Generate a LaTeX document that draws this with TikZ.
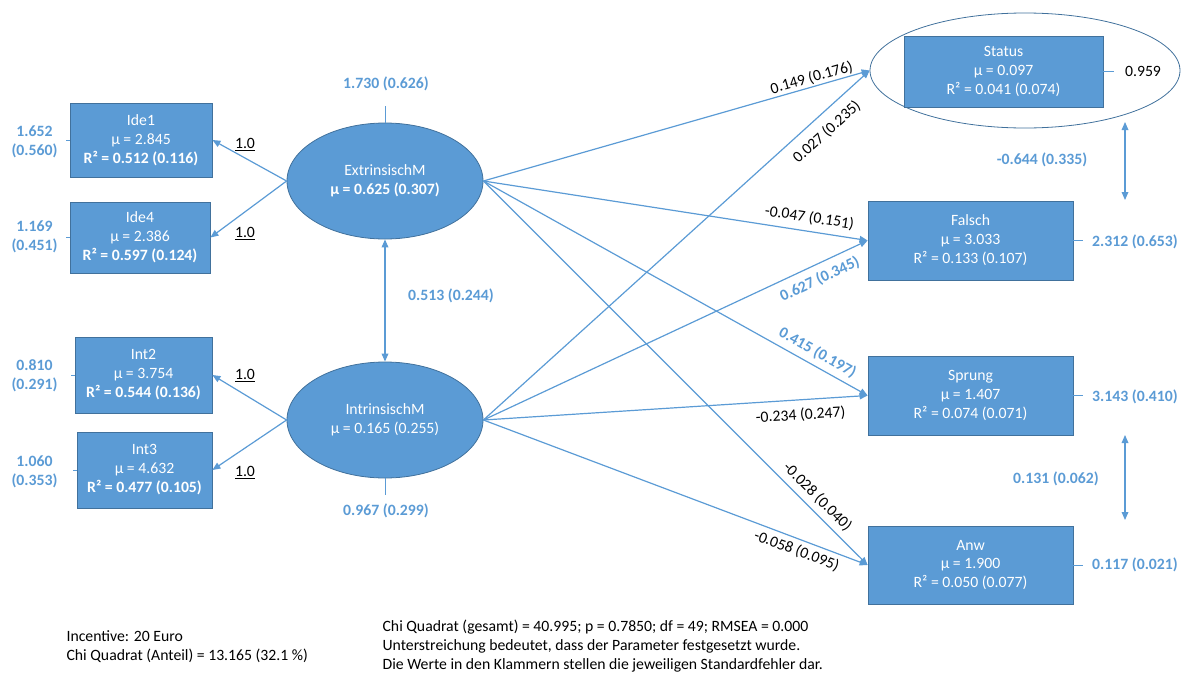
\documentclass[tikz,border=0pt]{standalone}
\usepackage{fontspec}
\setmainfont{Carlito}
\usetikzlibrary{arrows.meta,shapes.geometric}
\definecolor{semblue}{HTML}{5B9BD5}
\definecolor{semedge}{HTML}{41719C}

\begin{document}
\begin{tikzpicture}[x=0.75pt,y=-0.75pt,
  every node/.style={font=\fontsize{11.8}{14.2}\selectfont, inner sep=1pt},
  indicator/.style={draw=semedge, fill=semblue, text=white, align=center,
    line width=0.6pt, inner sep=0pt},
  latent/.style={ellipse, draw=semedge, fill=semblue, text=white, align=center,
    line width=0.6pt, inner sep=0pt,
    minimum width=196*0.75pt, minimum height=116*0.75pt},
  regarrow/.style={draw=semblue, line width=0.9pt, -{Triangle[length=6pt,width=5pt]}},
  covarrow/.style={draw=semblue, line width=0.9pt,
    {Triangle[length=6pt,width=5pt]}-{Triangle[length=6pt,width=5pt]}},
  resline/.style={draw=semblue, line width=0.6pt},
  estlabel/.style={text=semblue, font=\fontsize{11.8}{14.2}\selectfont\bfseries, align=center},
  coeflabel/.style={text=black, sloped},
  coefblue/.style={text=semblue, sloped, font=\fontsize{11.8}{14.2}\selectfont\bfseries},
  notetext/.style={anchor=west, align=left, font=\fontsize{11.8}{14.2}\selectfont}
]
\useasboundingbox (0,0) rectangle (1181,675);

% latent factors
\node[latent] (ext) at (385,181) {ExtrinsischM\\\textbf{μ = 0.625 (0.307)}};
\node[latent] (int) at (385,420) {IntrinsischM\\μ = 0.165 (0.255)};

% indicators
\node[indicator, minimum width=142*0.75pt, minimum height=74*0.75pt] (ide1) at (141,140)
  {Ide1\\μ = 2.845\\\textbf{R² = 0.512 (0.116)}};
\node[indicator, minimum width=140*0.75pt, minimum height=71*0.75pt] (ide4) at (140,237.5)
  {Ide4\\μ = 2.386\\\textbf{R² = 0.597 (0.124)}};
\node[indicator, minimum width=137*0.75pt, minimum height=76*0.75pt] (int2) at (143.5,375)
  {Int2\\μ = 3.754\\\textbf{R² = 0.544 (0.136)}};
\node[indicator, minimum width=135*0.75pt, minimum height=76*0.75pt] (int3) at (144.5,470)
  {Int3\\μ = 4.632\\\textbf{R² = 0.477 (0.105)}};

% outcomes
\node[ellipse, draw=semedge, line width=0.6pt, minimum width=310*0.75pt,
  minimum height=115*0.75pt] (ring) at (1025,70.5) {};
\node[indicator, minimum width=199*0.75pt, minimum height=71*0.75pt] (status) at (1003.5,71.5)
  {Status\\μ = 0.097\\R² = 0.041 (0.074)};
\node[indicator, minimum width=205*0.75pt, minimum height=79*0.75pt] (falsch) at (970.5,240.5)
  {Falsch\\μ = 3.033\\R² = 0.133 (0.107)};
\node[indicator, minimum width=205*0.75pt, minimum height=79*0.75pt] (sprung) at (970.5,395.5)
  {Sprung\\μ = 1.407\\R² = 0.074 (0.071)};
\node[indicator, minimum width=205*0.75pt, minimum height=78*0.75pt] (anw) at (970.5,565)
  {Anw\\μ = 1.900\\R² = 0.050 (0.077)};

% residual variances
\node[estlabel] (vide1) at (34.5,142) {1.652\\(0.560)};
\node[estlabel] (vide4) at (34.5,237) {1.169\\(0.451)};
\node[estlabel] (vint2) at (34.5,375.5) {0.810\\(0.291)};
\node[estlabel] (vint3) at (34.5,471.5) {1.060\\(0.353)};
\draw[resline] (ide1.west) -- ++(-4,0);
\draw[resline] (ide4.west) -- ++(-4,0);
\draw[resline] (int2.west) -- ++(-4,0);
\draw[resline] (int3.west) -- ++(-4,0);

\node[estlabel] (vext) at (386,84) {1.730 (0.626)};
\node[estlabel] (vint) at (386,511) {0.967 (0.299)};
\draw[resline] (ext.north) -- ++(0,-17);
\draw[resline] (int.south) -- ++(0,17);

\node[text=black] (vstatus) at (1143,71) {0.959};
\node[estlabel] (vfalsch) at (1135,242) {2.312 (0.653)};
\node[estlabel] (vsprung) at (1135,397) {3.143 (0.410)};
\node[estlabel] (vanw) at (1135,565) {0.117 (0.021)};
\draw[resline] (status.east) -- ++(11,0);
\draw[resline] (falsch.east) -- ++(10,0);
\draw[resline] (sprung.east) -- ++(10,0);
\draw[resline] (anw.east) -- ++(10,0);

% loadings
\draw[regarrow] (ext.west) -- (ide1.east);
\draw[regarrow] (ext.west) -- (ide4.east);
\draw[regarrow] (int.west) -- (int2.east);
\draw[regarrow] (int.west) -- (int3.east);
\node (l1) at (245,145) {\underline{1.0}};
\node (l2) at (245,234) {\underline{1.0}};
\node (l3) at (245,376) {\underline{1.0}};
\node (l4) at (245,473) {\underline{1.0}};

% factor covariance
\draw[covarrow] (ext.south) -- (int.north);
\node[estlabel] (cfac) at (451,296) {0.513 (0.244)};

% outcome covariances
\coordinate (c1a) at (1125,122);
\coordinate (c1b) at (1125,200);
\coordinate (c2a) at (1125,435);
\coordinate (c2b) at (1125,520);
\draw[covarrow] (c1a) -- (c1b);
\draw[covarrow] (c2a) -- (c2b);
\node[estlabel] (cov1) at (1042,160) {-0.644 (0.335)};
\node[estlabel] (cov2) at (1056,479) {0.131 (0.062)};

% structural paths
\draw[regarrow] (ext.east) -- (ring.west)
  node[coeflabel, pos=0.856, above=0pt] {0.149 (0.176)};
\draw[regarrow] (ext.east) -- (falsch.west)
  node[coeflabel, pos=0.843, above=3.75pt] {-0.047 (0.151)};
\draw[regarrow] (ext.east) -- (sprung.west)
  node[coefblue, pos=0.853, above=3pt] {0.415 (0.197)};
\draw[regarrow] (ext.east) -- (anw.west)
  node[coeflabel, pos=0.846, above=3pt] {-0.028 (0.040)};
\draw[regarrow] (int.east) -- (ring.west)
  node[coeflabel, pos=0.86, below=6pt] {0.027 (0.235)};
\draw[regarrow] (int.east) -- (falsch.west)
  node[coefblue, pos=0.859, below=4.5pt] {0.627 (0.345)};
\draw[regarrow] (int.east) -- (sprung.west)
  node[coeflabel, pos=0.823, below=5pt] {-0.234 (0.247)};
\draw[regarrow] (int.east) -- (anw.west)
  node[coeflabel, pos=0.826, below=2.25pt] {-0.058 (0.095)};

% notes
\node[notetext] (note1) at (65,646.5) {Incentive: 20 Euro\\Chi Quadrat (Anteil) = 13.165 (32.1 \%)};
\node[notetext] (note2) at (381,646) {Chi Quadrat (gesamt) = 40.995; p = 0.7850; df = 49; RMSEA = 0.000\\
  Unterstreichung bedeutet, dass der Parameter festgesetzt wurde.\\
  Die Werte in den Klammern stellen die jeweiligen Standardfehler dar.};
\end{tikzpicture}
\end{document}
